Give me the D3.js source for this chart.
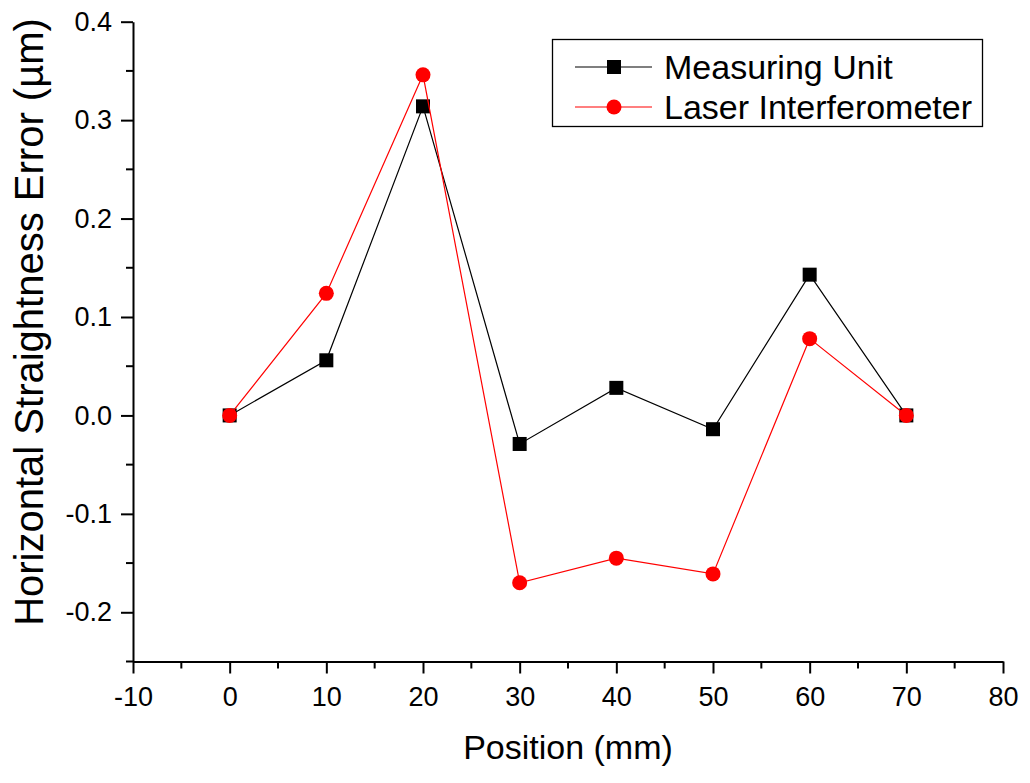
<!DOCTYPE html>
<html><head><meta charset="utf-8">
<script src="https://cdn.jsdelivr.net/npm/d3@7"></script>
<style>body{margin:0;background:#fff;} svg{display:block;}</style>
</head><body>
<svg id="chart" width="1030" height="783"></svg>
<script>
const positions = [0, 10, 20, 30, 40, 50, 60, 70];
const measuringUnit = [0, 0.056, 0.314, -0.029, 0.028, -0.014, 0.143, 0];
const laserInterferometer = [0, 0.124, 0.346, -0.170, -0.145, -0.161, 0.078, 0];
const seriesNames = ["Measuring Unit", "Laser Interferometer"];
const xTicks = [-10, 0, 10, 20, 30, 40, 50, 60, 70, 80];
const yTicks = [-0.2, -0.1, 0.0, 0.1, 0.2, 0.3, 0.4];

const font = "Arial, 'Liberation Sans', sans-serif";
const svg = d3.select("#chart");
const L = 133, R = 1003, T = 21.7, B = 661.5;
const x = d3.scaleLinear().domain([-10, 80]).range([L, R]);
const y = d3.scaleLinear().domain([-0.25, 0.4]).range([B, T]);
const hy = f => d => f(d).replace("\u2212", "-");

// minor ticks
const xMinor = d3.range(-5, 80, 10);
const yMinor = d3.range(-0.25, 0.40, 0.1);
svg.append("g").selectAll("line").data(xMinor).join("line")
  .attr("x1", d => x(d)).attr("x2", d => x(d)).attr("y1", B).attr("y2", B + 7)
  .attr("stroke", "#000").attr("stroke-width", 2);
svg.append("g").selectAll("line").data(yMinor).join("line")
  .attr("y1", d => y(d)).attr("y2", d => y(d)).attr("x1", L).attr("x2", L - 7)
  .attr("stroke", "#000").attr("stroke-width", 2);

const xAxis = svg.append("g").attr("transform", `translate(0,${B})`)
  .call(d3.axisBottom(x).tickValues(xTicks).tickSize(12).tickSizeOuter(0).tickPadding(13).tickFormat(hy(d3.format("d"))));
const yAxis = svg.append("g").attr("transform", `translate(${L},0)`)
  .call(d3.axisLeft(y).tickValues(yTicks).tickSize(12).tickSizeOuter(0).tickPadding(9).tickFormat(hy(d3.format(".1f"))));
[xAxis, yAxis].forEach(a => {
  a.select(".domain").attr("stroke-width", 2);
  a.selectAll(".tick line").attr("stroke-width", 2);
  a.selectAll("text").attr("font-family", font).attr("font-size", 27).attr("fill", "#000");
});

svg.append("text").attr("x", (L + R) / 2).attr("y", 759).attr("text-anchor", "middle")
  .attr("font-family", font).attr("font-size", 34).text("Position (mm)");
svg.append("text").attr("transform", "translate(43,322) rotate(-90)").attr("text-anchor", "middle")
  .attr("font-family", font).attr("font-size", 40).text("Horizontal Straightness Error (µm)");

const line = d3.line().x(d => x(d[0])).y(d => y(d[1]));
const mu = positions.map((p, i) => [p, measuringUnit[i]]);
const li = positions.map((p, i) => [p, laserInterferometer[i]]);

svg.append("path").datum(mu).attr("d", line).attr("fill", "none").attr("stroke", "#000").attr("stroke-width", 1.2);
svg.append("g").selectAll("rect").data(mu).join("rect")
  .attr("x", d => x(d[0]) - 7).attr("y", d => y(d[1]) - 7).attr("width", 14).attr("height", 14).attr("fill", "#000");
svg.append("path").datum(li).attr("d", line).attr("fill", "none").attr("stroke", "#ff0000").attr("stroke-width", 1.2);
svg.append("g").selectAll("circle").data(li).join("circle")
  .attr("cx", d => x(d[0])).attr("cy", d => y(d[1])).attr("r", 7.5).attr("fill", "#ff0000");

// legend
const lg = svg.append("g");
lg.append("rect").attr("x", 552.5).attr("y", 39.5).attr("width", 430).attr("height", 87)
  .attr("fill", "#fff").attr("stroke", "#000").attr("stroke-width", 1.3);
const rows = [{name: seriesNames[0], color: "#000", shape: "square", cy: 67},
              {name: seriesNames[1], color: "#ff0000", shape: "circle", cy: 107}];
rows.forEach(r => {
  lg.append("line").attr("x1", 575).attr("x2", 652).attr("y1", r.cy).attr("y2", r.cy)
    .attr("stroke", r.color).attr("stroke-width", 1.2);
  if (r.shape === "square") lg.append("rect").attr("x", 614 - 7).attr("y", r.cy - 7).attr("width", 14).attr("height", 14).attr("fill", r.color);
  else lg.append("circle").attr("cx", 614).attr("cy", r.cy).attr("r", 7.5).attr("fill", r.color);
  lg.append("text").attr("x", 664).attr("y", r.cy + 12).attr("font-family", font).attr("font-size", 34).text(r.name);
});
</script>
</body></html>
